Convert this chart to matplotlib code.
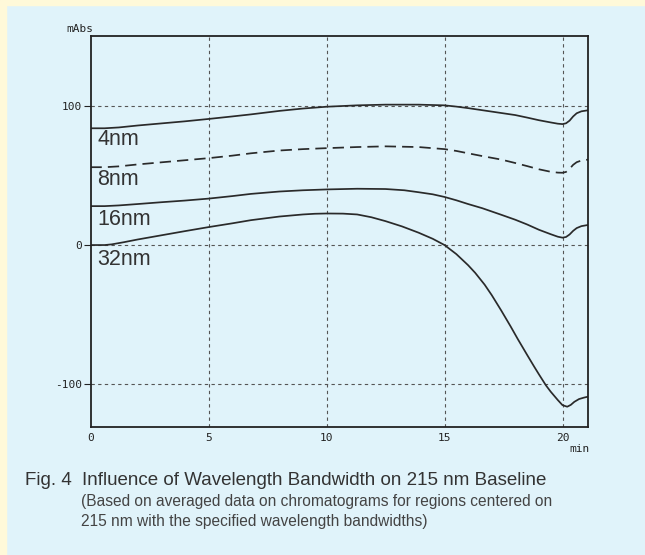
import matplotlib.pyplot as plt
from matplotlib.patches import Rectangle

# baselines (time in min, absorbance in mAbs)
t_4nm = [0, 0.6, 1.2, 2, 3, 4, 5, 6, 6.8, 8, 9, 10, 11.3, 12.5, 13.9, 15, 15.5,
         16, 16.6, 17.4, 18, 18.5, 19, 19.5, 19.8, 20.0, 20.15, 20.3, 20.45,
         20.6, 20.8, 21.1]
y_4nm = [84, 84, 84.6, 86, 87.5, 89, 90.7, 92.5, 94, 96.5, 98.2, 99.5, 100.5,
         101, 101, 100.5, 99.6, 98.5, 97, 95, 93.5, 91.7, 89.8, 88.2, 87.3, 87,
         87.6, 89.5, 92.5, 94.8, 96.2, 97]

t_8nm = [0, 0.6, 1.2, 2, 3, 4, 5, 6, 6.8, 8, 9, 10, 11.3, 12.5, 13.9, 15, 15.5,
         16, 16.6, 17.4, 18, 18.5, 19, 19.5, 19.8, 20.0, 20.15, 20.3, 20.45,
         20.6, 20.8, 21.1]
y_8nm = [56, 56, 56.6, 58, 59.5, 61, 62.5, 64.3, 66, 68, 69, 69.7, 70.5, 71,
         70.5, 69, 67.7, 66, 64, 61.5, 59, 56.8, 54.5, 52.7, 52.1, 52, 52.6,
         54.8, 57.7, 59.6, 60.8, 61.5]

t_16nm = [0, 0.6, 1.2, 2, 3, 4, 5, 6, 6.8, 8, 9, 10, 11.3, 12.5, 13.3, 13.9,
          14.5, 15, 15.5, 16, 16.6, 17.4, 18, 18.5, 19, 19.5, 19.8, 20.0,
          20.15, 20.3, 20.45, 20.6, 20.8, 21.1]
y_16nm = [28, 28, 28.5, 29.5, 30.8, 32, 33.4, 35.2, 36.8, 38.5, 39.4, 40, 40.5,
          40.3, 39.4, 38, 36.5, 34.6, 32.2, 29.5, 26.5, 21.8, 18.2, 14.8, 11,
          7.8, 6, 5.3, 5.8, 7.6, 10.2, 12.2, 13.6, 14.5]

t_32nm = [0, 0.6, 0.9, 1.4, 2, 3, 4, 5, 6, 6.8, 8, 9, 9.5, 10, 10.7, 11.3,
          11.9, 12.5, 13.2, 13.9, 14.5, 15, 15.5, 16, 16.3, 16.7, 17, 17.4,
          17.8, 18.1, 18.5, 18.8, 19, 19.3, 19.5, 19.8, 20, 20.2, 20.35, 20.5,
          20.7, 20.9, 21.1]
y_32nm = [0, 0, 0.5, 2, 4, 7, 10, 12.9, 15.6, 17.9, 20.5, 22, 22.5, 22.7, 22.6,
          22, 20, 17.2, 13.4, 8.9, 4.5, 0, -6.5, -14.5, -20, -28.5, -36, -47,
          -58.5, -67.5, -79, -87.5, -93, -101, -105.5, -111.5, -115.2, -116.3,
          -115, -112.8, -110.8, -109.8, -109]

labels = ["4nm", "8nm", "16nm", "32nm"]
label_y = [75.7, 47, 18.4, -10.2]

xticks = [0, 5, 10, 15, 20]
yticks = [-100, 0, 100]

bg = "#e0f3fa"
fig = plt.figure(figsize=(6.45, 5.55), dpi=100, facecolor=bg)
# yellow strips on the top and left edge
fig.patches.append(Rectangle((0, 1 - 5 / 555), 1, 5 / 555, transform=fig.transFigure,
                             color="#fff9d9", zorder=0))
fig.patches.append(Rectangle((0, 0), 6 / 645, 1, transform=fig.transFigure,
                             color="#fff9d9", zorder=0))

ax = fig.add_axes([90.5 / 645, 1 - 427 / 555, 497.5 / 645, 391.3 / 555])
ax.set_facecolor(bg)
ax.set_xlim(0, 21.08)
ax.set_ylim(-130.9, 150.6)

lc = "#2a2a2a"
ax.plot(t_4nm, y_4nm, color=lc, lw=1.25)
ax.plot(t_8nm, y_8nm, color=lc, lw=1.25, dashes=(6.5, 3.5))
ax.plot(t_16nm, y_16nm, color=lc, lw=1.25)
ax.plot(t_32nm, y_32nm, color=lc, lw=1.25)

for lab, ly in zip(labels, label_y):
    ax.text(0.28, ly, lab, fontsize=15.5, family="Liberation Sans", color="#333333",
            va="center", ha="left")

for x in xticks[1:]:
    ax.axvline(x, color="#555555", lw=0.8, dashes=(3, 3), zorder=0)
for y in yticks:
    ax.axhline(y, color="#555555", lw=0.8, dashes=(3, 3), zorder=0)

tick_font = "DejaVu Sans Mono"
ax.set_xticks(xticks)
ax.set_yticks(yticks)
ax.set_xticklabels([str(v) for v in xticks], family=tick_font, fontsize=8)
ax.set_yticklabels([str(v) for v in yticks], family=tick_font, fontsize=8)
ax.tick_params(axis="x", length=0, pad=4, colors="#222222")
ax.tick_params(axis="y", length=5, width=0.8, pad=1, colors="#222222")
for s in ax.spines.values():
    s.set_linewidth(1.3)
    s.set_color("#222222")

fig.text(66 / 645, 1 - 32 / 555, "mAbs", family=tick_font, fontsize=8, color="#222222",
         va="baseline")
fig.text(590 / 645, 1 - 452 / 555, "min", family=tick_font, fontsize=8, color="#222222",
         va="baseline", ha="right")

fig.text(25 / 645, 1 - 485 / 555, "Fig. 4", family="Liberation Sans", fontsize=13.5,
         color="#333333", va="baseline")
fig.text(81.7 / 645, 1 - 485 / 555, "Influence of Wavelength Bandwidth on 215 nm Baseline",
         family="Liberation Sans", fontsize=13.5, color="#333333", va="baseline")
fig.text(81 / 645, 1 - 506 / 555,
         "(Based on averaged data on chromatograms for regions centered on",
         family="Liberation Sans", fontsize=11.2, color="#444444", va="baseline")
fig.text(81 / 645, 1 - 526 / 555,
         "215 nm with the specified wavelength bandwidths)",
         family="Liberation Sans", fontsize=11.2, color="#444444", va="baseline")

plt.savefig("out.png", dpi=100, facecolor=bg)
